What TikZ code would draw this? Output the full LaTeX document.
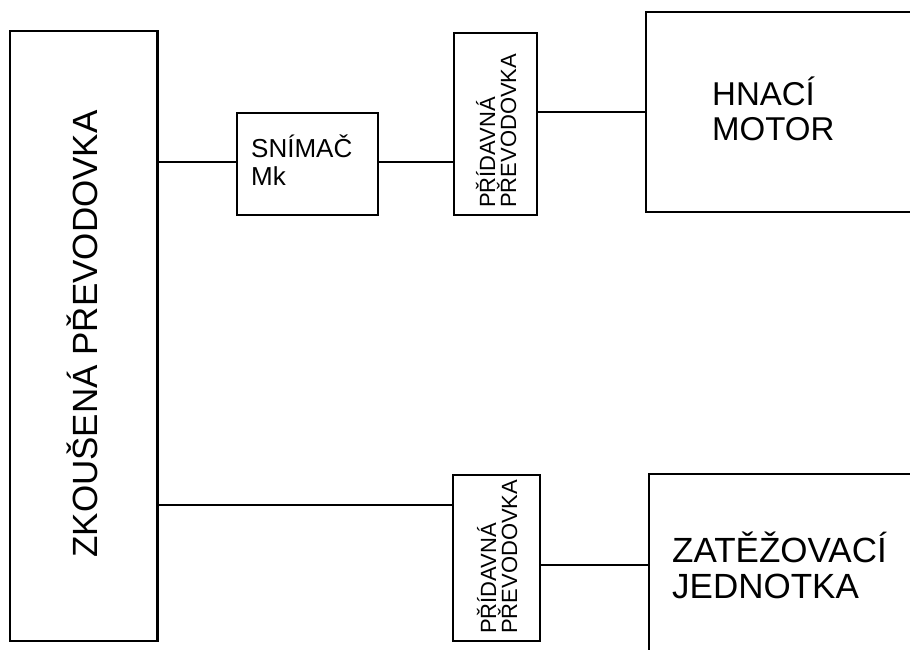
\documentclass[tikz,border=0pt]{standalone}
\usepackage{fontspec}
\setmainfont{Liberation Sans}
\begin{document}
\begin{tikzpicture}[x=1pt,y=-1pt,
  box/.style={draw, line width=2.4pt, rectangle, inner sep=0pt, fill=white},
  conn/.style={line width=2.4pt},
  lbl/.style={inner sep=0pt, align=left}]
\useasboundingbox (0,0) rectangle (910,650);
\clip (0,0) rectangle (910,650);
% boxes
\node[box, minimum width=147.5pt, minimum height=610pt] (zk) at (83.75,336) {};
\node[box, minimum width=141pt, minimum height=102pt] (sn) at (307.5,164) {};
\node[box, minimum width=83pt, minimum height=182pt] (pd1) at (495.5,124) {};
\node[box, minimum width=87pt, minimum height=166pt] (pd2) at (496.5,558) {};
\node[box, minimum width=320pt, minimum height=200pt] (mot) at (806,112) {};
\node[box, minimum width=320pt, minimum height=300pt] (zat) at (809,624) {};
% coordinates for connector heights
\coordinate (ya) at (0,162);
\coordinate (yb) at (0,505);
\coordinate (yc) at (0,565);
% connectors
\draw[conn] (zk.east |- ya) -- (sn.west |- ya);
\draw[conn] (sn.east |- ya) -- (pd1.west |- ya);
\draw[conn] (pd1.east |- mot.west) -- (mot.west);
\draw[conn] (zk.east |- yb) -- (pd2.west |- yb);
\draw[conn] (pd2.east |- yc) -- (zat.west |- yc);
% labels
\node[lbl, rotate=90, font=\fontsize{35}{37}\selectfont, text height=25pt, text depth=0pt] (tzk) at (84.5,334) {ZKOUŠENÁ PŘEVODOVKA};
\node[lbl, anchor=base west, font=\fontsize{26}{28}\selectfont] (tsn) at (251,185) {SNÍMAČ\\Mk};
\node[lbl, rotate=90, anchor=west, font=\fontsize{22}{21}\selectfont] (tpd1) at (496,208) {PŘÍDAVNÁ\\PŘEVODOVKA};
\node[lbl, rotate=90, anchor=west, font=\fontsize{22}{21}\selectfont] (tpd2) at (497,634) {PŘÍDAVNÁ\\PŘEVODOVKA};
\node[lbl, anchor=base west, font=\fontsize{33}{35}\selectfont] (tmot) at (712,140) {HNACÍ\\MOTOR};
\node[lbl, anchor=base west, font=\fontsize{35}{36}\selectfont] (tzat) at (672,598) {ZATĚŽOVACÍ\\JEDNOTKA};
\end{tikzpicture}
\end{document}
